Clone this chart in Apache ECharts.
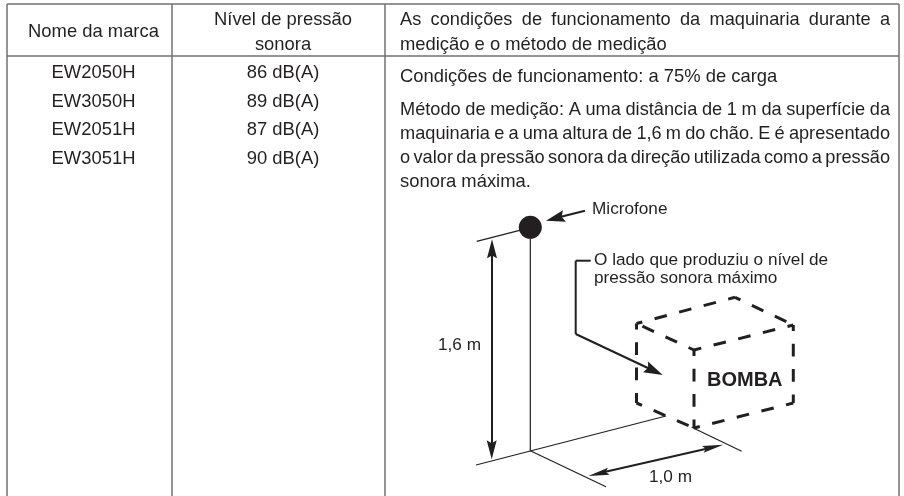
<!DOCTYPE html>
<html>
<head>
<meta charset="utf-8">
<style>
  html, body { margin: 0; padding: 0; background: #fff; }
  #main { width: 904px; height: 496px; }
</style>
<script src="https://cdn.jsdelivr.net/npm/echarts@6/dist/echarts.min.js"></script>
</head>
<body>
<div id="main"></div>
<script>
// table content
const brands = ["EW2050H", "EW3050H", "EW2051H", "EW3051H"];
const levels = ["86 dB(A)", "89 dB(A)", "87 dB(A)", "90 dB(A)"];
const rowY = [72.5, 101.5, 130, 158.5];

// [text, x, y, align]
const tableTexts = [
  ["Nome da marca", 93.5, 32, "center"],
  ["Nível de pressão", 283, 20, "center"],
  ["sonora", 283, 45, "center"],
  ["medição e o método de medição", 400, 45, "left"],
  ["Condições de funcionamento: a 75% de carga", 400, 77, "left"],
  ["sonora máxima.", 400, 182, "left"],
];
// texts of the drawing
const diagramTexts = [
  ["Microfone", 592, 209, "left"],
  ["O lado que produziu o nível de", 594, 260, "left"],
  ["pressão sonora máximo", 594, 278, "left"],
  ["1,6 m", 438, 345, "left"],
  ["1,0 m", 649, 477, "left"],
];
const pumpLabel = ["BOMBA", 707, 380, "left"];
// justified lines: [text, y]
const justifiedLines = [
  ["As condições de funcionamento da maquinaria durante a", 20],
  ["Método de medição: A uma distância de 1 m da superfície da", 110],
  ["maquinaria e a uma altura de 1,6 m do chão. E é apresentado", 134],
  ["o valor da pressão sonora da direção utilizada como a pressão", 158],
];
const justifyFrom = 400;
const justifyTo = 890;

// geometry of the drawing, in page units of the hidden axes
const tableRules = [
  [7, 4, 899, 4], [7, 56, 899, 56],
  [7, 4, 7, 496], [172, 4, 172, 496], [385, 4, 385, 496], [899, 4, 899, 496],
];
const thinLines = [
  [476.7, 241.3, 530.3, 227.6],
  [530.3, 227, 530.3, 450.7],
  [476, 465, 666, 416],
  [530.3, 450.7, 606, 486.7],
  [691.7, 427.3, 741.7, 451.3],
];
const thickLines = [
  [492, 250, 492, 450],
  [600, 473, 712, 447.5],
  [585, 210.7, 558, 217.5],
  [590.7, 260.7, 575.7, 260.7],
  [575.7, 260.7, 575.7, 334],
  [575.7, 334, 650, 369],
];
const boxEdges = [
  [636.5, 323.5, 735, 297.3], [735, 297.3, 793.3, 325],
  [793.3, 325, 694, 350], [694, 350, 636.5, 323.5],
  [636.5, 323.5, 636.5, 403], [694, 350, 694, 428],
  [793.3, 325, 793.3, 403],
  [636.5, 403, 694, 428], [694, 428, 793.3, 403],
];
const boxEdgeDash = [12.7, 12.7];
const boxEdgeDashOffset = 6.7; // every edge starts with a short dab at its corner
// [tipX, tipY, fromX, fromY, length, halfWidth]
const arrowHeads = [
  [492, 239.3, 492, 300, 19, 5],
  [491.7, 459.3, 491.7, 400, 19, 5],
  [546, 220.7, 585, 210.7, 19, 6],
  [662.7, 375, 575.7, 334, 19, 6],
  [588.3, 476, 723.3, 444.7, 21, 3.5],
  [723.3, 444.7, 588.3, 476, 21, 3.5],
];
const micPoint = [[530.3, 227.3]];

const ink = "#231f20";
const fontFamily = '"Liberation Sans", Arial, sans-serif';
const font = "18.4px " + fontFamily;
const justifiedFont = "18.2px " + fontFamily;
const diagramFont = "17.2px " + fontFamily;
const boldFont = "bold 20px " + fontFamily;

const measure = document.createElement("canvas").getContext("2d");
measure.font = justifiedFont;

function textEl(api, text, x, y, align, f) {
  const p = api.coord([x, y]);
  return {
    type: "text",
    style: {
      text: text, x: p[0], y: p[1], font: f || font, fill: ink,
      textAlign: align || "left", textVerticalAlign: "middle",
    },
  };
}

function segmentSeries(name, list, color, width, dash, dashOffset) {
  return {
    type: "custom", name: name, coordinateSystem: "cartesian2d", clip: false, silent: true,
    data: list,
    renderItem(params, api) {
      const a = api.coord([api.value(0), api.value(1)]);
      const b = api.coord([api.value(2), api.value(3)]);
      return {
        type: "line",
        shape: { x1: a[0], y1: a[1], x2: b[0], y2: b[1] },
        style: {
          stroke: color, lineWidth: width, fill: null,
          lineDash: dash || null, lineDashOffset: dashOffset || 0,
        },
      };
    },
  };
}

function labelSeries(name, list, f) {
  return {
    type: "custom", name: name, coordinateSystem: "cartesian2d", clip: false, silent: true,
    data: list.map((t, i) => [i]),
    renderItem(params, api) {
      const t = list[params.dataIndex];
      return textEl(api, t[0], t[1], t[2], t[3], f);
    },
  };
}

const option = {
  animation: false,
  backgroundColor: "#fff",
  grid: { left: 0, right: 0, top: 0, bottom: 0 },
  xAxis: { type: "value", min: 0, max: 904, show: false },
  yAxis: { type: "value", min: 0, max: 496, inverse: true, show: false },
  series: [
    segmentSeries("rules", tableRules, "#707070", 1.5),
    segmentSeries("thin", thinLines, ink, 1.2),
    segmentSeries("thick", thickLines, ink, 2),
    segmentSeries("box", boxEdges, ink, 3, boxEdgeDash, boxEdgeDashOffset),
    {
      type: "custom", name: "arrows", coordinateSystem: "cartesian2d", clip: false, silent: true,
      data: arrowHeads,
      renderItem(params, api) {
        const tip = api.coord([api.value(0), api.value(1)]);
        const from = api.coord([api.value(2), api.value(3)]);
        const len = api.value(4), hw = api.value(5);
        const d = Math.hypot(from[0] - tip[0], from[1] - tip[1]);
        const ux = (from[0] - tip[0]) / d, uy = (from[1] - tip[1]) / d;
        const bx = tip[0] + ux * len, by = tip[1] + uy * len;
        const nx = tip[0] + ux * len * 0.85, ny = tip[1] + uy * len * 0.85;
        return {
          type: "polygon",
          shape: { points: [tip, [bx - uy * hw, by + ux * hw], [nx, ny], [bx + uy * hw, by - ux * hw]] },
          style: { fill: ink },
        };
      },
    },
    {
      type: "scatter", name: "microphone", data: micPoint, symbol: "circle", symbolSize: 23,
      itemStyle: { color: ink, opacity: 1 }, silent: true,
    },
    {
      type: "custom", name: "rowsText", coordinateSystem: "cartesian2d", clip: false, silent: true,
      data: brands.map((b, i) => [i]),
      renderItem(params, api) {
        const i = params.dataIndex;
        return {
          type: "group",
          children: [
            textEl(api, brands[i], 93.5, rowY[i], "center"),
            textEl(api, levels[i], 283, rowY[i], "center"),
          ],
        };
      },
    },
    labelSeries("tableTexts", tableTexts, font),
    labelSeries("diagramTexts", diagramTexts, diagramFont),
    labelSeries("pump", [pumpLabel], boldFont),
    {
      type: "custom", name: "justified", coordinateSystem: "cartesian2d", clip: false, silent: true,
      data: justifiedLines.map((t, i) => [i]),
      renderItem(params, api) {
        // spread the words over the cell width, like the source table
        const line = justifiedLines[params.dataIndex];
        const words = line[0].split(" ");
        const widths = words.map((w) => measure.measureText(w).width);
        const total = widths.reduce((a, b) => a + b, 0);
        const gap = (justifyTo - justifyFrom - total) / (words.length - 1);
        let x = justifyFrom;
        const children = words.map((w, i) => {
          const el = textEl(api, w, x, line[1], "left", justifiedFont);
          x += widths[i] + gap;
          return el;
        });
        return { type: "group", children: children };
      },
    },
  ],
};

const chart = echarts.init(document.getElementById("main"), null, { renderer: "canvas" });
chart.setOption(option);
</script>
</body>
</html>
